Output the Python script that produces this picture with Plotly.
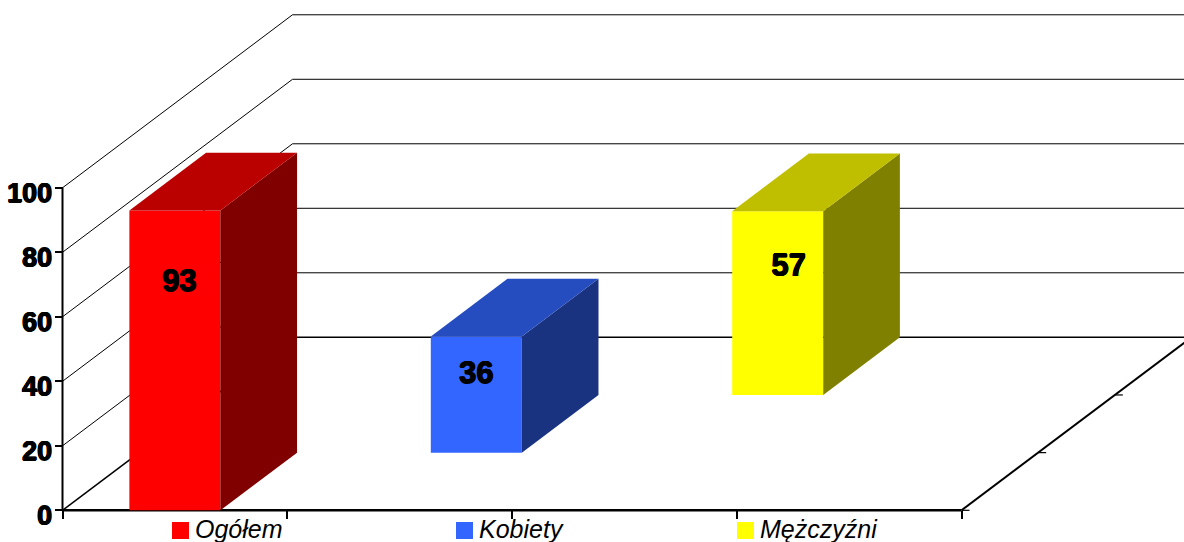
import plotly.graph_objects as go

# --- data ---
categories = ["Ogółem", "Kobiety", "Mężczyźni"]
values = [93, 36, 57]
front_colors = ["#FF0000", "#3366FF", "#FFFF00"]
top_colors = ["#BB0000", "#264DBF", "#BFBF00"]
side_colors = ["#800000", "#1A3380", "#808000"]
y_ticks = [0, 20, 40, 60, 80, 100]
n_slots = 4

# --- oblique projection constants ---
W, H = 1184, 542
X0_PX, Y0_PX = 62.5, 510.3       # pixel position of the origin
PX_CAT, PX_VAL = 224.75, 3.225   # pixels per category / per value unit
DX = 76.67 / PX_CAT              # one depth row in x units
DY = 57.67 / PX_VAL              # one depth row in y units
BAR_W = 91 / PX_CAT
N_DEPTH = 3
HEAVY = "0.6px 0 0 #000, -0.6px 0 0 #000, 0 0.4px 0 #000, 0 -0.4px 0 #000"

x_range = [-X0_PX / PX_CAT, (W - X0_PX) / PX_CAT]
y_range = [(Y0_PX - H) / PX_VAL, Y0_PX / PX_VAL]


def px_x(px):
    return px / PX_CAT


def px_y(px):
    return px / PX_VAL


fig = go.Figure()
shapes = []


def line(x0, y0, x1, y1, width=1.0, color="#000000"):
    shapes.append(dict(type="line", xref="x", yref="y", x0=x0, y0=y0, x1=x1, y1=y1,
                       layer="below", line=dict(color=color, width=width)))


back_x, back_y = N_DEPTH * DX, N_DEPTH * DY
for v in y_ticks:
    w = 1.6 if v == 0 else 1.0
    line(0, v, back_x, v + back_y, w)          # side wall
    line(back_x, v + back_y, x_range[1] + 1, v + back_y, w)  # back wall
line(n_slots, 0, n_slots + back_x, back_y, 2)  # floor, right edge
line(0, 0, n_slots, 0, 2.4)                    # front axis
line(0, 0, 0, 100, 2)                          # value axis
for d in range(N_DEPTH):
    line(n_slots + d * DX, d * DY, n_slots + d * DX + px_x(8), d * DY, 1.2)

# Front faces
for i, (cat, v) in enumerate(zip(categories, values)):
    cx = i + 0.5 + i * DX
    base = i * DY
    fig.add_trace(go.Bar(x=[cx], y=[v], base=[base], width=[BAR_W],
                         marker=dict(color=front_colors[i], line=dict(width=0)),
                         name=cat, showlegend=False, hoverinfo="skip"))
    xl, xr = cx - BAR_W / 2, cx + BAR_W / 2
    top = base + v
    # Right side face
    fig.add_trace(go.Scatter(x=[xr, xr, xr + DX, xr + DX, xr], y=[base, top, top + DY, base + DY, base],
                             mode="lines", fill="toself", fillcolor=side_colors[i],
                             line=dict(width=0), showlegend=False, hoverinfo="skip"))
    # Top face
    fig.add_trace(go.Scatter(x=[xl, xr, xr + DX, xl + DX, xl], y=[top, top, top + DY, top + DY, top],
                             mode="lines", fill="toself", fillcolor=top_colors[i],
                             line=dict(width=0), showlegend=False, hoverinfo="skip"))

# Value labels
label_dx_px = [4.5, 0, 11]
label_drop_px = [73, 39, 57]
for i, v in enumerate(values):
    cx = i + 0.5 + i * DX + px_x(label_dx_px[i])
    ty = i * DY + v - px_y(label_drop_px[i])
    fig.add_trace(go.Scatter(x=[cx], y=[ty], mode="text", text=[str(v)], textposition="middle center",
                             textfont=dict(family="Liberation Sans", size=31, color="#000000", weight="bold", shadow=HEAVY),
                             showlegend=False, hoverinfo="skip", cliponaxis=False))

# Category key, below the axis
key_px = [180.5, 464.5, 745.5]
key_text_px = [195, 479, 760]
key_y = px_y(Y0_PX - 530.5)
text_y = px_y(Y0_PX - 532)
for i, cat in enumerate(categories):
    fig.add_trace(go.Scatter(x=[px_x(key_px[i] - X0_PX)], y=[key_y], mode="markers",
                             marker=dict(symbol="square", size=17, color=front_colors[i], line=dict(width=0)),
                             showlegend=False, hoverinfo="skip", cliponaxis=False))
    fig.add_trace(go.Scatter(x=[px_x(key_text_px[i] - X0_PX)], y=[text_y], mode="text",
                             text=[cat], textposition="middle right",
                             textfont=dict(family="Liberation Sans", size=25, color="#000000", style="italic"),
                             showlegend=False, hoverinfo="skip", cliponaxis=False))

fig.update_layout(
    width=W, height=H, autosize=False,
    margin=dict(l=0, r=0, t=0, b=0, pad=0),
    paper_bgcolor="#FFFFFF", plot_bgcolor="#FFFFFF",
    showlegend=False, barmode="overlay", shapes=shapes,
    xaxis=dict(range=x_range, domain=[0, 1], anchor="free", position=(H - Y0_PX) / H,
               tickmode="array", tickvals=list(range(n_slots + 1)), showticklabels=False,
               ticks="outside", ticklen=8, tickwidth=1.5, tickcolor="#000000",
               showgrid=False, zeroline=False, showline=False),
    yaxis=dict(range=y_range, domain=[0, 1], anchor="free", position=X0_PX / W,
               tickmode="array", tickvals=y_ticks,
               ticks="outside", ticklen=8, tickwidth=1.5, tickcolor="#000000",
               tickfont=dict(family="Liberation Sans", size=27, color="#000000", weight="bold", shadow=HEAVY),
               ticklabelshift=5, ticklabelstandoff=-3,
               showgrid=False, zeroline=False, showline=False),
)

fig.write_html("out.html", config=dict(displayModeBar=False),
               post_script="document.body.style.margin='0';document.documentElement.style.overflow='hidden';")
